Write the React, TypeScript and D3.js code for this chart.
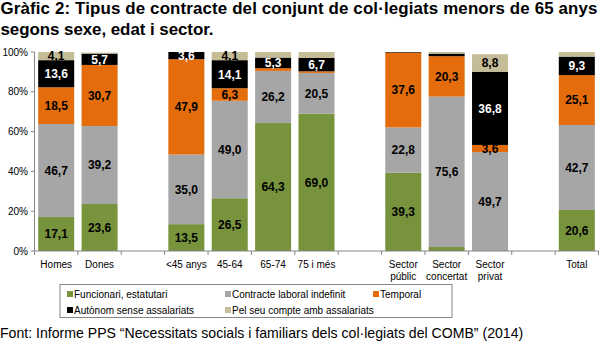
import React from 'react';
import * as d3 from 'd3';

const slots = ['Homes', 'Dones', 'gap1', '<45 anys', '45-64', '65-74', '75 i més', 'gap2', 'Sector públic', 'Sector concertat', 'Sector privat', 'gap3', 'Total'];
const categories = ['Homes', 'Dones', '<45 anys', '45-64', '65-74', '75 i més', 'Sector públic', 'Sector concertat', 'Sector privat', 'Total'];
const categoryLines: string[][] = [['Homes'], ['Dones'], ['<45 anys'], ['45-64'], ['65-74'], ['75 i més'], ['Sector', 'públic'], ['Sector', 'concertat'], ['Sector', 'privat'], ['Total']];

const funcionari = [17.1, 23.6, 13.5, 26.5, 64.3, 69.0, 39.3, 2.0, 0, 20.6];
const indefinit = [46.7, 39.2, 35.0, 49.0, 26.2, 20.5, 22.8, 75.6, 49.7, 42.7];
const temporal = [18.5, 30.7, 47.9, 6.3, 1.4, 0.8, 37.6, 20.3, 3.6, 25.1];
const autonom = [13.6, 5.7, 3.6, 14.1, 5.3, 6.7, 0.3, 1.3, 36.8, 9.3];
const pelSeuCompte = [4.1, 0.5, 0, 4.1, 2.8, 3.0, 0, 0.8, 8.8, 2.3];

const seriesNames = ['Funcionari, estatutari', 'Contracte laboral indefinit', 'Temporal', 'Autònom sense assalariats', 'Pel seu compte amb assalariats'];
const seriesColors = ['#77933C', '#A6A6A6', '#E46C0A', '#000000', '#C4BD97'];
const labelColors = ['#000', '#000', '#000', '#fff', '#000'];
const yTicks = [0, 20, 40, 60, 80, 100];

const titleLines = ['Gràfic 2: Tipus de contracte del conjunt de col·legiats menors de 65 anys', 'segons sexe, edat i sector.'];
const sourceText = 'Font: Informe PPS “Necessitats socials i familiars dels col·legiats del COMB” (2014)';

const FONT = '"Liberation Sans", Arial, sans-serif';

export default function App() {
  const W = 600, H = 341;
  const x0 = 34.5, x1 = 598.5;
  const yTop = 52, yBot = 251;
  const x = d3.scaleBand<string>().domain(slots).range([x0, x1]).paddingInner(0.17).paddingOuter(0.085);
  const y = d3.scaleLinear().domain([0, 100]).range([yBot, yTop]);
  const step = (x1 - x0) / slots.length;

  const allSeries = [funcionari, indefinit, temporal, autonom, pelSeuCompte];
  const rows = categories.map((c, i) => {
    const r: any = { cat: c };
    seriesNames.forEach((s, k) => { r[s] = allSeries[k][i]; });
    return r;
  });
  const stacked = d3.stack<any>().keys(seriesNames)(rows);

  const axisColor = '#868686';
  const titleLengths = [597, 213];

  return (
    <svg width={W} height={H} style={{ position: 'absolute', left: 0, top: 0, background: '#fff' }} fontFamily={FONT}>
      <rect x={0} y={0} width={W} height={H} fill="#fff" />
      {titleLines.map((t, i) => (
        <text key={i} x={0.5} y={13.5 + i * 21.5} fontSize={16.9} fontWeight="bold" fill="#000"
          textLength={titleLengths[i]} lengthAdjust="spacing">{t}</text>
      ))}
      {/* bars */}
      {stacked.map((s, k) => (
        <g key={k}>
          {s.map((d, i) => {
            const bx = x(categories[i])!;
            const h = y(d[0]) - y(d[1]);
            if (h <= 0) return null;
            return <rect key={i} x={bx} y={y(d[1])} width={x.bandwidth()} height={h} fill={seriesColors[k]} />;
          })}
        </g>
      ))}
      {/* labels */}
      {stacked.map((s, k) => (
        <g key={'l' + k}>
          {s.map((d, i) => {
            const v = allSeries[k][i];
            if (v < 3.5) return null;
            const cx = x(categories[i])! + x.bandwidth() / 2;
            const cy = (y(d[0]) + y(d[1])) / 2;
            return (
              <text key={i} x={cx} y={cy} dy="0.36em" textAnchor="middle" fontSize={12} fontWeight="bold" fill={labelColors[k]}>
                {d3.format('.1f')(v).replace('.', ',')}
              </text>
            );
          })}
        </g>
      ))}
      {/* y axis */}
      <line x1={x0} x2={x0} y1={yTop} y2={yBot} stroke={axisColor} strokeWidth={1} />
      {yTicks.map((t) => (
        <g key={t}>
          <line x1={x0 - 3.5} x2={x0} y1={y(t)} y2={y(t)} stroke={axisColor} />
          <text x={28} y={y(t)} dy="0.35em" textAnchor="end" fontSize={10} fill="#000">{t + '%'}</text>
        </g>
      ))}
      {/* x axis */}
      <line x1={x0} x2={x1} y1={yBot} y2={yBot} stroke={axisColor} />
      {d3.range(slots.length + 1).map((i) => (
        <line key={i} x1={x0 + i * step} x2={x0 + i * step} y1={yBot} y2={yBot + 4} stroke={axisColor} />
      ))}
      {categories.map((c, i) => (
        <text key={c} x={x(c)! + x.bandwidth() / 2} textAnchor="middle" fontSize={10} fill="#000">
          {categoryLines[i].map((l, j) => (
            <tspan key={j} x={x(c)! + x.bandwidth() / 2} y={267.5 + j * 12}>{l}</tspan>
          ))}
        </text>
      ))}
      {/* legend */}
      <rect x={60} y={284.5} width={392} height={33} fill="#fff" stroke={axisColor} strokeWidth={1} />
      {seriesNames.map((s, k) => {
        const col = k % 3, row = Math.floor(k / 3);
        const lx = [67, 225, 373][col];
        const ly = [294, 310][row];
        return (
          <g key={s}>
            <rect x={lx} y={ly - 3} width={6} height={6} fill={seriesColors[k]} />
            <text x={lx + 7} y={ly} dy="0.35em" fontSize={10} fill="#000">{s}</text>
          </g>
        );
      })}
      <text x={0} y={337.5} fontSize={14.1} fill="#000">{sourceText}</text>
    </svg>
  );
}
